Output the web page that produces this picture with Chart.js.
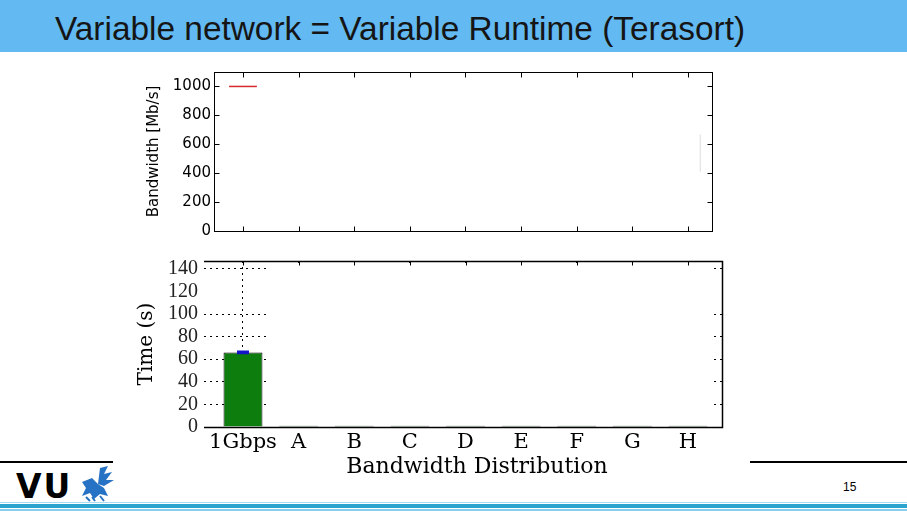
<!DOCTYPE html>
<html>
<head>
<meta charset="utf-8">
<script src="https://cdn.jsdelivr.net/npm/chart.js"></script>
<style>
body { margin: 0; width: 907px; height: 511px; position: relative; overflow: hidden; background: #fff; font-family: "Liberation Sans", Arial, sans-serif; }
#header { position: absolute; left: 0; top: 0; width: 907px; height: 52px; background: #63b9f1; }
#title { position: absolute; left: 55px; top: 10px; font-size: 33.4px; color: #151515; white-space: nowrap; }
#topWrap { position: absolute; left: 130px; top: 60px; width: 600px; height: 177px; overflow: hidden; }
#botChart { position: absolute; left: 120px; top: 243px; }
.rule { position: absolute; background: #000; height: 2px; top: 461px; }
#vu { position: absolute; left: 16px; top: 467px; font-family: "DejaVu Sans", sans-serif; font-weight: bold; font-size: 33px; letter-spacing: 2px; color: #000; }
#logo { position: absolute; left: 78px; top: 466px; }
#page { position: absolute; left: 843px; top: 480px; font-size: 12px; color: #000; }
.band { position: absolute; left: 0; width: 907px; }
</style>
</head>
<body>
<div id="header"></div>
<div id="title">Variable network = Variable Runtime (Terasort)</div>

<div id="topWrap"><canvas id="topChart" width="600" height="183"></canvas></div>
<canvas id="botChart" width="620" height="242"></canvas>

<div class="rule" style="left:0; width:113px;"></div>
<div class="rule" style="left:750px; width:157px;"></div>
<div id="vu">VU</div>
<svg id="logo" width="38" height="36" viewBox="0 0 38 36">
  <path d="M22 2 L30 0 L26 8 L34 6 L28 14 L36 14 L26 20 L20 18 Z" fill="#2672c4"/>
  <path d="M4 16 L14 12 L20 18 L26 22 L30 30 L22 28 L16 33 L12 27 L4 30 L8 22 Z" fill="#2672c4"/>
  <path d="M8 31 L12 35 M14 31 L17 35 M22 30 L26 35" stroke="#2672c4" stroke-width="2"/>
</svg>
<div id="page">15</div>
<div class="band" style="top:502px; height:1px; background:#a8dcf2;"></div>
<div class="band" style="top:504px; height:4px; background:#2ba3cf;"></div>
<div class="band" style="top:509px; height:2px; background:#86cdee;"></div>

<script>
var categories = ['1Gbps', 'A', 'B', 'C', 'D', 'E', 'F', 'G', 'H'];
var runtime = [66, 1, 1, 1, 1, 1, 1, 1, 1];
var runtimeErr = [0.8, 0, 0, 0, 0, 0, 0, 0, 0];
var timeTicks = [0, 20, 40, 60, 80, 100, 120, 140];
var bwTicks = [0, 200, 400, 600, 800, 1000];

// bandwidth trace pieces in the top panel (x in category units)
var bwLineX = [-0.25, 0.25];
var bwLineY = [1000, 1000];
var bwTraceX = [8.22, 8.22];
var bwTraceY = [410, 667];

function pts(xs, ys) {
    return xs.map(function (x, i) { return { x: x, y: ys[i] }; });
}

function setTicks(values) {
    return function (scale) {
        scale.ticks = values.map(function (v) { return { value: v }; });
    };
}

var catIndex = categories.map(function (c, i) { return i; });

var topFrame = {
    id: 'topFrame',
    afterDatasetsDraw: function (chart) {
        var ctx = chart.ctx, a = chart.chartArea;
        var xs = chart.scales.x, ys = chart.scales.y;
        var L = Math.round(a.left) + 0.5, R = Math.round(a.right) + 0.5;
        var T = Math.round(a.top) + 0.5, B = Math.round(a.bottom) + 0.5;
        ctx.save();
        ctx.strokeStyle = '#000';
        ctx.lineWidth = 1;
        ctx.strokeRect(L, T, R - L, B - T);
        ctx.beginPath();
        xs.ticks.forEach(function (t) {
            var px = Math.round(xs.getPixelForValue(t.value)) + 0.5;
            ctx.moveTo(px, T); ctx.lineTo(px, T + 5);
            ctx.moveTo(px, B); ctx.lineTo(px, B - 5);
        });
        ys.ticks.forEach(function (t) {
            var py = Math.round(ys.getPixelForValue(t.value)) + 0.5;
            ctx.moveTo(L, py); ctx.lineTo(L + 5, py);
            ctx.moveTo(R, py); ctx.lineTo(R - 5, py);
        });
        ctx.stroke();
        ctx.restore();
    }
};

var botFrame = {
    id: 'botFrame',
    beforeDatasetsDraw: function (chart) {
        // the slide hides the middle of the grid behind a white patch
        var ctx = chart.ctx, a = chart.chartArea, xs = chart.scales.x;
        var x1 = xs.getPixelForValue(0.42), x2 = xs.getPixelForValue(8.4);
        ctx.save();
        ctx.fillStyle = '#fff';
        ctx.fillRect(x1, a.top + 2, x2 - x1, a.bottom - a.top - 4);
        ctx.restore();
    },
    afterDatasetsDraw: function (chart) {
        var ctx = chart.ctx, a = chart.chartArea;
        var xs = chart.scales.x, ys = chart.scales.y;
        ctx.save();
        // error bars
        ctx.strokeStyle = '#1515c8';
        ctx.lineWidth = 2;
        runtime.forEach(function (v, i) {
            if (!runtimeErr[i]) return;
            var px = xs.getPixelForValue(i);
            var lo = ys.getPixelForValue(v - runtimeErr[i]);
            var hi = ys.getPixelForValue(v + runtimeErr[i]);
            ctx.beginPath();
            ctx.moveTo(px, lo); ctx.lineTo(px, hi);
            ctx.moveTo(px - 6, lo); ctx.lineTo(px + 6, lo);
            ctx.moveTo(px - 6, hi); ctx.lineTo(px + 6, hi);
            ctx.stroke();
        });
        // frame: top, right, bottom
        var L = a.left, R = Math.round(a.right) + 0.5;
        var T = Math.round(a.top) + 0.5, B = Math.round(a.bottom) + 0.5;
        ctx.strokeStyle = '#000';
        ctx.lineWidth = 1.5;
        ctx.beginPath();
        ctx.moveTo(L, T); ctx.lineTo(R, T); ctx.lineTo(R, B); ctx.lineTo(L, B);
        ctx.stroke();
        ctx.lineWidth = 1;
        ctx.beginPath();
        xs.ticks.forEach(function (t) {
            var px = Math.round(xs.getPixelForValue(t.value)) + 0.5;
            ctx.moveTo(px, T); ctx.lineTo(px, T + 4);
        });
        ctx.stroke();
        ctx.restore();
    }
};

new Chart(document.getElementById('topChart'), {
    type: 'line',
    data: {
        datasets: [{
            data: pts(bwLineX, bwLineY),
            borderColor: '#d62a2a',
            borderWidth: 1.5,
            pointRadius: 0
        }, {
            data: pts(bwTraceX, bwTraceY),
            borderColor: '#dcdcdc',
            borderWidth: 1,
            pointRadius: 0
        }]
    },
    options: {
        responsive: false,
        animation: false,
        layout: { padding: { top: 0, right: 18, bottom: 0, left: 0 } },
        plugins: { legend: { display: false }, tooltip: { enabled: false } },
        scales: {
            x: {
                type: 'linear',
                min: -0.521,
                max: 8.432,
                offset: false,
                afterBuildTicks: setTicks(catIndex),
                afterFit: function (s) { s.height = 6; },
                ticks: { display: false },
                grid: { display: false, drawTicks: false },
                border: { display: false }
            },
            y: {
                min: 0,
                max: 1100,
                afterBuildTicks: setTicks(bwTicks),
                afterFit: function (s) { s.width = 84; },
                ticks: {
                    color: '#000', padding: 3, autoSkip: false,
                    font: { family: 'DejaVu Sans', size: 15 },
                    callback: function (v) { return String(v); }
                },
                grid: { display: false, drawTicks: false },
                border: { display: false },
                title: {
                    display: true,
                    text: 'Bandwidth [Mb/s]',
                    color: '#000',
                    font: { family: 'DejaVu Sans', size: 15 },
                    padding: { top: 15, bottom: 0 }
                }
            }
        }
    },
    plugins: [topFrame]
});

new Chart(document.getElementById('botChart'), {
    type: 'bar',
    data: {
        datasets: [{
            data: pts(catIndex, runtime),
            backgroundColor: '#0d7d0d',
            borderColor: '#000',
            borderWidth: 1,
            barPercentage: 0.7,
            categoryPercentage: 1
        }]
    },
    options: {
        responsive: false,
        animation: false,
        layout: { padding: { top: 0, right: 18, bottom: 0, left: 0 } },
        plugins: { legend: { display: false }, tooltip: { enabled: false } },
        scales: {
            x: {
                type: 'linear',
                min: -0.701,
                max: 8.611,
                offset: false,
                afterBuildTicks: setTicks(catIndex),
                afterFit: function (s) { s.height = 58; },
                ticks: {
                    color: '#000',
                    padding: 3,
                    autoSkip: false,
                    maxRotation: 0,
                    minRotation: 0,
                    font: { family: 'DejaVu Serif', size: 21 },
                    callback: function (v) { return categories[v]; }
                },
                grid: { color: '#000', lineWidth: 1, drawTicks: false, offset: false },
                border: { display: false, dash: [2, 4] },
                title: {
                    display: true,
                    text: '    Bandwidth Distribution',
                    color: '#000',
                    font: { family: 'DejaVu Serif', size: 22 },
                    padding: { top: 0, bottom: 5 }
                }
            },
            y: {
                min: 0,
                max: 147,
                afterBuildTicks: setTicks(timeTicks),
                afterFit: function (s) { s.width = 84; },
                ticks: { color: '#222', padding: 6, autoSkip: false, font: { family: 'Liberation Serif', size: 20 } },
                grid: {
                    drawTicks: false,
                    lineWidth: 1,
                    color: function (ctx) { return ctx.tick && ctx.tick.value === 120 ? 'rgba(0,0,0,0)' : '#000'; }
                },
                border: { display: false, dash: [2, 4] },
                title: {
                    display: true,
                    text: 'Time (s)',
                    color: '#000',
                    font: { family: 'DejaVu Serif', size: 20 },
                    padding: { top: 15, bottom: 0 }
                }
            }
        }
    },
    plugins: [botFrame]
});
</script>
</body>
</html>
